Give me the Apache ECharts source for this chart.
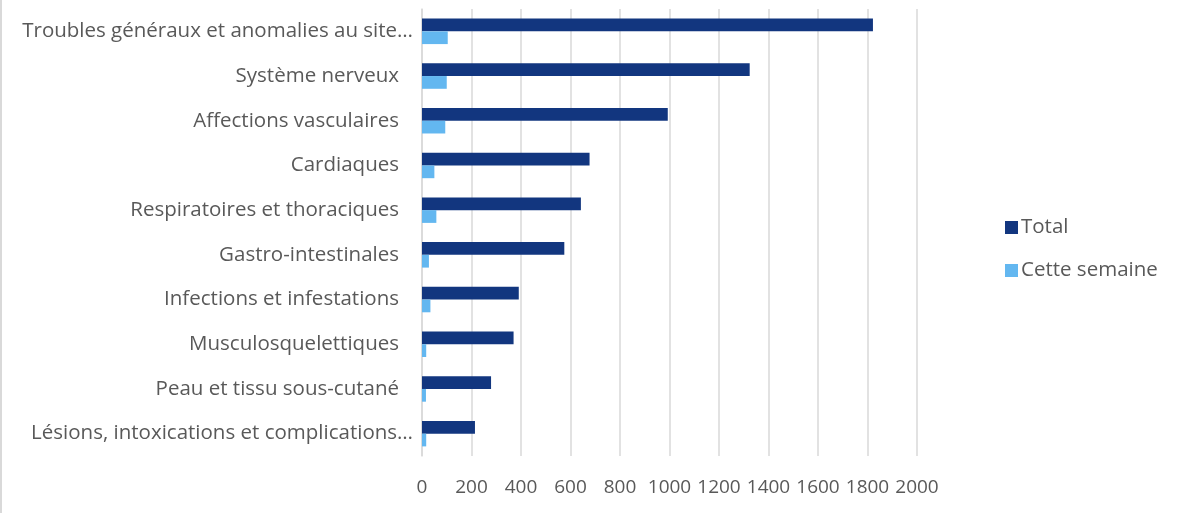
<!DOCTYPE html>
<html>
<head>
<meta charset="utf-8">
<script src="https://cdn.jsdelivr.net/npm/echarts@6/dist/echarts.min.js"></script>
<style>html,body{margin:0;padding:0;background:#fff}#c{width:1184px;height:513px}</style>
</head>
<body>
<div id="c"></div>
<script>
const categories = [
  "Troubles généraux et anomalies au site…",
  "Système nerveux",
  "Affections vasculaires",
  "Cardiaques",
  "Respiratoires et thoraciques",
  "Gastro-intestinales",
  "Infections et infestations",
  "Musculosquelettiques",
  "Peau et tissu sous-cutané",
  "Lésions, intoxications et complications…"
];
const totalValues = [1822, 1324, 993, 677, 642, 575, 391, 370, 279, 214];
const weekValues = [104, 100, 94, 50, 58, 28, 34, 17, 16, 17];
const seriesNames = ["Total", "Cette semaine"];

const chart = echarts.init(document.getElementById('c'));
const font = "'Open Sans', sans-serif";
chart.setOption({
  animation: false,
  textStyle: {fontFamily: font},
  grid: {left: 422, right: 267, top: 9, bottom: 57, containLabel: false},
  legend: {
    orient: 'vertical', left: 1000, top: 212, itemGap: 22,
    itemWidth: 13, itemHeight: 13, icon: 'rect',
    textStyle: {fontSize: 20.5, color: '#595959', fontFamily: font, padding: [0,0,0,-2]},
    data: seriesNames
  },
  xAxis: {
    type: 'value', min: 0, max: 2000, interval: 200,
    axisLabel: {fontSize: 19, color: '#595959', margin: 22, fontFamily: font,
      formatter: v => String(v)},
    axisLine: {show: false}, axisTick: {show: false},
    splitLine: {show: true, lineStyle: {color: '#D9D9D9', width: 1.5}}
  },
  yAxis: {
    type: 'category', data: categories, inverse: true,
    axisLabel: {fontSize: 20.5, color: '#595959', margin: 9, fontFamily: font,
      formatter: v => v.endsWith('…') ? v : '{n|' + v + '}',
      rich: {n: {fontSize: 20.5, color: '#595959', fontFamily: font, padding: [0, 14, 0, 0]}}},
    axisLine: {show: true, lineStyle: {color: '#D9D9D9', width: 1.5}},
    axisTick: {show: false}
  },
  series: [
    {name: seriesNames[0], type: 'bar', data: totalValues, barGap: '0%', barCategoryGap: '43%',
     itemStyle: {color: '#12367F'}},
    {name: seriesNames[1], type: 'bar', data: weekValues,
     itemStyle: {color: '#63B7F0'}}
  ],
  graphic: [{type: 'rect', shape: {x: 0, y: 0, width: 2, height: 513}, style: {fill: '#D9D9D9'}}]
});
</script>
</body>
</html>
